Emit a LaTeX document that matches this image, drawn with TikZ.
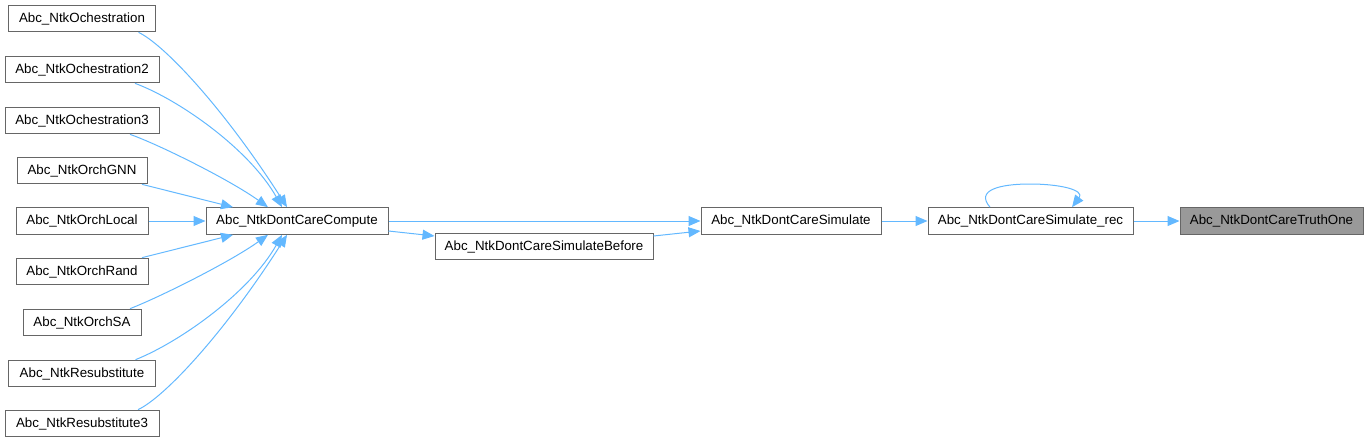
\documentclass[tikz,border=0pt]{standalone}
\usepackage{fontspec}
\setmainfont{Liberation Sans}
\usetikzlibrary{arrows.meta,calc}

\definecolor{edgeblue}{HTML}{63B8FF}
\definecolor{boxgray}{HTML}{666666}
\definecolor{hilite}{HTML}{999999}

\tikzset{
  fn/.style={draw=boxgray, fill=white, line width=0.75pt, inner sep=0pt,
    minimum height=20pt, font=\fontsize{10pt}{12pt}\selectfont},
  call/.style={draw=edgeblue, line width=0.75pt, -{Triangle[length=9pt,width=7.5pt]}},
}

\begin{document}
\begin{tikzpicture}[x=0.75pt, y=-0.75pt]
  \useasboundingbox (0,0) rectangle (1369,443);

  % Callers on the left
  \foreach \nm/\txt/\y/\w in {
      och1/Abc\_NtkOchestration/18.5/110.25,
      och2/Abc\_NtkOchestration2/69.5/115.5,
      och3/Abc\_NtkOchestration3/120.5/115.5,
      gnn/Abc\_NtkOrchGNN/170.5/97.5,
      local/Abc\_NtkOrchLocal/221/99,
      rand/Abc\_NtkOrchRand/271.5/99,
      sa/Abc\_NtkOrchSA/322.5/88.5,
      resub/Abc\_NtkResubstitute/373.5/110.25,
      resub3/Abc\_NtkResubstitute3/423.5/115.5} {
    \node[fn, minimum width=\w pt] (\nm) at (82,\y) {\txt};
  }

  % Chain to the right
  \node[fn, minimum width=136.5pt] (compute) at (297,221) {Abc\_NtkDontCareCompute};
  \node[fn, minimum width=163.5pt] (before) at (544,246.5) {Abc\_NtkDontCareSimulateBefore};
  \node[fn, minimum width=135pt] (simulate) at (791,221) {Abc\_NtkDontCareSimulate};
  \node[fn, minimum width=153.75pt] (rec) at (1030.5,221) {Abc\_NtkDontCareSimulate\_rec};
  \node[fn, minimum width=137.25pt, fill=hilite] (truth) at (1271.5,221) {Abc\_NtkDontCareTruthOne};

  % Upper callers
  \draw[call] ($(och1.south)+(56.5,0)$) .. controls (165,45) and (225,110) .. ($(compute.north)+(-10,0)$);
  \draw[call] ($(och2.south)+(53,0)$) .. controls (180,100) and (250,150) .. ($(compute.north)+(-15,0)$);
  \draw[call] ($(och3.south)+(48,0)$) .. controls (160,145) and (230,180) .. ($(compute.north)+(-29,0)$);
  \draw[call] ($(gnn.south)+(60,0)$) -- ($(compute.north)+(-64,0)$);
  \draw[call] (local) -- (compute);
  % Lower callers
  \draw[call] ($(rand.north)+(60,0)$) -- ($(compute.south)+(-64,0)$);
  \draw[call] ($(sa.north)+(48,0)$) .. controls (160,297) and (230,262) .. ($(compute.south)+(-29,0)$);
  \draw[call] ($(resub.north)+(53.5,0)$) .. controls (180,342) and (250,292) .. ($(compute.south)+(-15,0)$);
  \draw[call] ($(resub3.north)+(56,0)$) .. controls (165,397) and (225,332) .. ($(compute.south)+(-10,0)$);

  % Simulation chain
  \draw[call] (compute) -- (simulate);
  \draw[call] ($(compute.east)+(0,10)$) -- ($(before.west)+(0,-10.5)$);
  \draw[call] ($(before.east)+(0,-10.5)$) -- ($(simulate.west)+(0,10)$);
  \draw[call] (simulate) -- (rec);
  \draw[call] (rec) -- (truth);
  \draw[call] ($(rec.north)+(-40.5,0)$) .. controls (975,190) and (1000,184) .. (1030,184)
    .. controls (1060,184) and (1085,190) .. ($(rec.north)+(41.5,0)$);
\end{tikzpicture}
\end{document}
